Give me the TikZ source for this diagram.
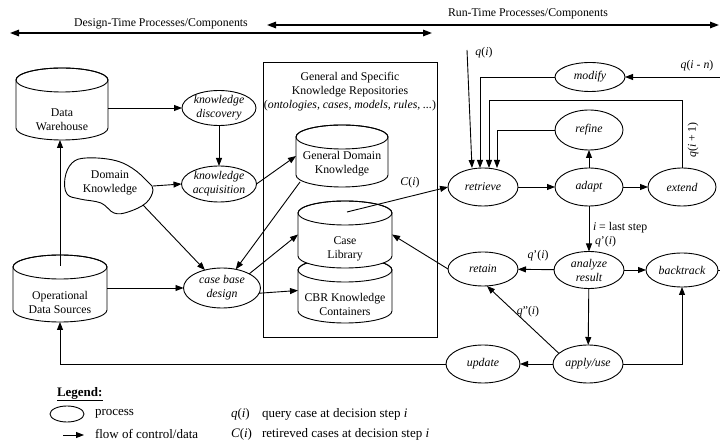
\documentclass[tikz,border=0pt]{standalone}
\usepackage{fontspec}
\setmainfont{Liberation Serif}
\usetikzlibrary{shapes.geometric,arrows.meta,calc}
\newcommand\drawcyl[5]{%
  \draw[fill=white] (#1-#4,-#2-#5) -- (#1-#4,-#3+#5)
    arc[start angle=180,end angle=360,x radius=#4,y radius=#5]
    -- (#1+#4,-#2-#5)
    arc[start angle=0,end angle=180,x radius=#4,y radius=#5] -- cycle;
  \draw (#1,-#2-#5) ellipse[x radius=#4,y radius=#5];}
\begin{document}
\begin{tikzpicture}[x=1pt,y=1pt,line width=0.9pt,
  every node/.style={inner sep=0pt,outer sep=0pt},
  txt/.style={font=\fontsize{11.8}{14}\selectfont,align=center},
  lgtxt/.style={font=\fontsize{13}{15}\selectfont,anchor=west},
  proc/.style={ellipse,draw,fill=white,font=\fontsize{11.8}{14}\selectfont\itshape,align=center},
  body/.style={rectangle},
  arr/.style={-{Triangle[length=8pt,width=6pt]}},
  bigarr/.style={{Triangle[length=9pt,width=6.5pt]}-{Triangle[length=9pt,width=6.5pt]},line width=1.4pt}]
\useasboundingbox (0,0) rectangle (720,-443);

% top time arrows
\coordinate (dtL) at (10,-33);
\coordinate (dtR) at (432,-33);
\coordinate (rtL) at (267,-25);
\coordinate (rtR) at (719,-25);
\draw[bigarr] (dtL) -- (dtR);
\draw[bigarr] (rtL) -- (rtR);
\node[txt] (dtlabel) at (161,-24) {Design-Time Processes/Components};
\node[txt] (rtlabel) at (528,-14) {Run-Time Processes/Components};

% repository box
\draw (263,-62) rectangle (437,-337);
\node[txt] (repotitle) at (350,-92) {General and Specific\\Knowledge Repositories\\(\textit{ontologies, cases, models, rules, ...})};

% cylinders
\drawcyl{62}{68}{140}{46}{12}
\node[body,minimum width=92pt,minimum height=72pt] (dwb) at (62,-104) {};
\node[txt] (dw) at (62,-120) {Data\\Warehouse};

\drawcyl{60}{255}{322}{47}{12}
\node[body,minimum width=94pt,minimum height=67pt] (odsb) at (60,-288.5) {};
\node[txt] (ods) at (60,-302) {Operational\\Data Sources};

\drawcyl{342}{125}{187}{46}{12}
\node[body,minimum width=92pt,minimum height=62pt] (gdkb) at (342,-156) {};
\node[txt] (gdk) at (342,-164) {General Domain\\Knowledge};

\drawcyl{345}{258}{323}{47}{12}
\node[body,minimum width=94pt,minimum height=65pt] (cbrb) at (345,-290.5) {};
\node[txt] (cbr) at (345,-304) {CBR Knowledge\\Containers};

\drawcyl{345}{201}{268}{47}{12}
\node[body,minimum width=94pt,minimum height=67pt] (clb) at (345,-234.5) {};
\node[txt] (cl) at (345,-249) {Case\\Library};

% domain knowledge blob
\draw[fill=white] plot[smooth cycle,tension=0.65] coordinates {(65,-178) (72,-163) (86,-158) (113,-160) (132,-168) (148,-182) (153,-190) (146,-203) (128,-212) (114,-213) (101,-203) (80,-199) (67,-194)};
\node[txt] (dk) at (110,-183) {Domain\\Knowledge};
\coordinate (dkE) at (153,-186);
\coordinate (dkSE) at (143,-205);

% processes
\node[proc,minimum width=74pt,minimum height=35pt] (kd) at (219,-108) {knowledge\\discovery};
\node[proc,minimum width=75pt,minimum height=36pt] (ka) at (219,-184) {knowledge\\acquisition};
\node[proc,minimum width=77pt,minimum height=40pt] (cbd) at (222,-288) {case base\\design};
\node[proc,minimum width=70pt,minimum height=38pt] (retrieve) at (483,-187) {retrieve};
\node[proc,minimum width=68pt,minimum height=38pt] (adapt) at (589,-187) {adapt};
\node[proc,minimum width=68pt,minimum height=38pt] (extend) at (682,-187) {extend};
\node[proc,minimum width=68pt,minimum height=40pt] (refine) at (589,-130) {refine};
\node[proc,minimum width=70pt,minimum height=29pt] (modify) at (590,-77) {modify};
\node[proc,minimum width=70pt,minimum height=34pt] (retain) at (483,-269) {retain};
\node[proc,minimum width=70pt,minimum height=37pt] (analyze) at (589,-270) {analyze\\result};
\node[proc,minimum width=72pt,minimum height=34pt] (backtrack) at (682,-270) {backtrack};
\node[proc,minimum width=70pt,minimum height=38pt] (apply) at (588,-364) {apply/use};
\node[proc,minimum width=74pt,minimum height=38pt] (update) at (483,-364) {update};

% design-time connectors
\draw[arr] (dwb.east |- kd.west) -- (kd.west);
\draw[arr] (kd) -- (ka);
\draw[arr] (dkE) -- (ka.west);
\draw[arr] (dkSE) -- (cbd);
\draw[arr] (ka.east) -- (gdkb.west);
\coordinate (gdkin) at (300,-182);
\draw[arr] (gdkin) -- (cbd);
\draw[arr] (cbd.north east) -- (clb.west);
\draw[arr] (cbd.-8) -- (cbrb.west);
\draw[arr] (cbd.west -| odsb.east) -- (cbd.west);
\coordinate (odsin) at (60,-266);
\draw[arr] (odsin) -- (odsin |- dwb.south);
\draw[arr] (update.west) -| (odsb.south);

% run-time connectors
\coordinate (clin) at (347,-212);
\draw[arr] (clin) -- (retrieve.west);
\node[txt] (cilabel) at (410,-183) {\textit{C}(\textit{i})};
\coordinate (qin) at (467,-50);
\draw[arr] (qin) -- ([xshift=-11pt]retrieve.north);
\node[txt] (qilabel) at (484,-53) {\textit{q}(\textit{i})};
\coordinate (qinR) at (720,-77);
\draw[arr] (qinR) -- (modify.east);
\node[txt] (qinlabel) at (697,-66) {\textit{q}(\textit{i} - \textit{n})};
\draw[arr] (modify.west) -| ([xshift=-3pt]retrieve.north);
\draw[arr] (extend.north) -- ++(0,68) -| ([xshift=6pt]retrieve.north);
\node[txt,rotate=90] (qi1label) at (693,-140) {\textit{q}(\textit{i} + 1)};
\draw[arr] (refine.west) -| ([xshift=14pt]retrieve.north);
\draw[arr] (retrieve) -- (adapt);
\draw[arr] (adapt) -- (extend);
\draw[arr] (adapt) -- (refine);
\draw[arr] (adapt) -- (analyze);
\node[txt,anchor=west] (laststep) at (593,-228) {\textit{i} = last step};
\node[txt,anchor=west] (qplabel) at (595,-242) {\textit{q}'(\textit{i})};
\draw[arr] (analyze) -- (retain);
\node[txt] (qplabel2) at (538,-256) {\textit{q}'(\textit{i})};
\draw[arr] (analyze) -- (backtrack);
\draw[arr] (analyze) -- (apply);
\draw[arr] (apply) -- (update);
\draw[arr] (apply.east) -| (backtrack.south);
\draw[arr] (apply.160) -- ([xshift=4pt]retain.south);
\node[txt] (qpplabel) at (528,-312) {\textit{q}''(\textit{i})};
\draw[arr] (retain.west) -- (clb.east);
\coordinate (btR) at (720,-270);
\draw (backtrack.east) -- (btR);

% legend
\node[lgtxt] (lgtitle) at (57,-394) {\underline{\textbf{Legend:}}};
\node[ellipse,draw,minimum width=34pt,minimum height=16pt] (lgproc) at (67,-414) {};
\node[lgtxt] (lgproctxt) at (95,-414) {process};
\coordinate (lga) at (63,-435);
\coordinate (lgb) at (84,-435);
\draw[arr] (lga) -- (lgb);
\node[lgtxt] (lgflow) at (95,-434) {flow of control/data};
\node[lgtxt] (lgq) at (231,-414) {\textit{q}(\textit{i})};
\node[lgtxt] (lgqtxt) at (262,-414) {query case at decision step \textit{i}};
\node[lgtxt] (lgc) at (231,-434) {\textit{C}(\textit{i})};
\node[lgtxt] (lgctxt) at (262,-434) {retireved cases at decision step \textit{i}};
\end{tikzpicture}
\end{document}
